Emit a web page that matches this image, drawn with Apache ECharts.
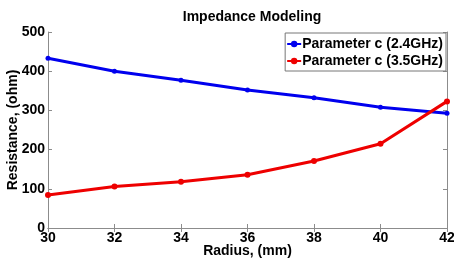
<!DOCTYPE html>
<html>
<head>
<meta charset="utf-8">
<script src="https://cdn.jsdelivr.net/npm/echarts@6/dist/echarts.min.js"></script>
<style>
  html, body { margin: 0; padding: 0; background: #fff; }
  #chart { width: 454px; height: 262px; }
</style>
</head>
<body>
<div id="chart"></div>
<script>
// values
var radius = [30, 32, 34, 36, 38, 40, 42];
var param24 = [433, 400, 377, 352, 332, 308, 293];
var param35 = [84, 106, 118, 136, 171, 215, 323];
var seriesNames = ["Parameter c (2.4GHz)", "Parameter c (3.5GHz)"];

var myChart = echarts.init(document.getElementById("chart"));
var fontFam = "Liberation Sans, Arial, sans-serif";
var axisGray = "#8c8c8c";

function pairs(ys) {
    return radius.map(function (x, i) { return [x, ys[i]]; });
}

var option = {
    animation: false,
    title: {
        text: "Impedance Modeling",
        left: 247,
        top: 5,
        textAlign: "center",
        textStyle: { fontFamily: fontFam, fontSize: 14, fontWeight: "bold", color: "#000" }
    },
    legend: {
        right: 8,
        top: 33,
        orient: "vertical",
        itemGap: 3,
        itemWidth: 14,
        itemHeight: 8,
        padding: [4, 3, 3, 1],
        borderColor: "#777",
        borderWidth: 1,
        borderRadius: 0,
        backgroundColor: "#fff",
        textStyle: { fontFamily: fontFam, fontSize: 14, fontWeight: "bold", color: "#000", padding: [0, 0, 0, -4] },
        data: seriesNames
    },
    grid: { left: 48, right: 7, top: 32, bottom: 34, outerBoundsMode: "none", containLabel: false },
    xAxis: [{
        type: "value",
        min: 30, max: 42, interval: 2,
        name: "Radius, (mm)",
        nameLocation: "middle",
        nameGap: 16,
        nameMoveOverlap: false,
        nameTextStyle: { fontFamily: fontFam, fontSize: 14, fontWeight: "bold", color: "#000" },
        axisLine: { lineStyle: { color: axisGray } },
        axisTick: { inside: true, length: 4, lineStyle: { color: axisGray } },
        axisLabel: { fontFamily: fontFam, fontSize: 14, fontWeight: "bold", color: "#000", margin: 3 },
        splitLine: { show: false }
    }, {
        type: "value", position: "top",
        min: 30, max: 42, interval: 2,
        axisLine: { lineStyle: { color: axisGray } },
        axisTick: { inside: true, length: 4, lineStyle: { color: axisGray } },
        axisLabel: { show: false },
        splitLine: { show: false }
    }],
    yAxis: [{
        type: "value",
        min: 0, max: 500, interval: 100,
        name: "Resistance, (ohm)",
        nameLocation: "middle",
        nameGap: 28,
        nameMoveOverlap: false,
        nameTextStyle: { fontFamily: fontFam, fontSize: 14, fontWeight: "bold", color: "#000" },
        axisLine: { show: true, lineStyle: { color: axisGray } },
        axisTick: { show: true, inside: true, length: 4, lineStyle: { color: axisGray } },
        axisLabel: { fontFamily: fontFam, fontSize: 14, fontWeight: "bold", color: "#000", margin: 3 },
        splitLine: { show: false }
    }, {
        type: "value", position: "right",
        min: 0, max: 500, interval: 100,
        axisLine: { show: true, lineStyle: { color: axisGray } },
        axisTick: { show: true, inside: true, length: 4, lineStyle: { color: axisGray } },
        axisLabel: { show: false },
        splitLine: { show: false }
    }],
    series: [{
        name: seriesNames[0],
        type: "line",
        data: pairs(param24),
        color: "#0000ee",
        lineStyle: { width: 3 },
        symbol: "circle",
        symbolSize: 5
    }, {
        name: seriesNames[1],
        type: "line",
        data: pairs(param35),
        color: "#ee0000",
        lineStyle: { width: 3 },
        symbol: "circle",
        symbolSize: 6
    }]
};

myChart.setOption(option);
</script>
</body>
</html>
